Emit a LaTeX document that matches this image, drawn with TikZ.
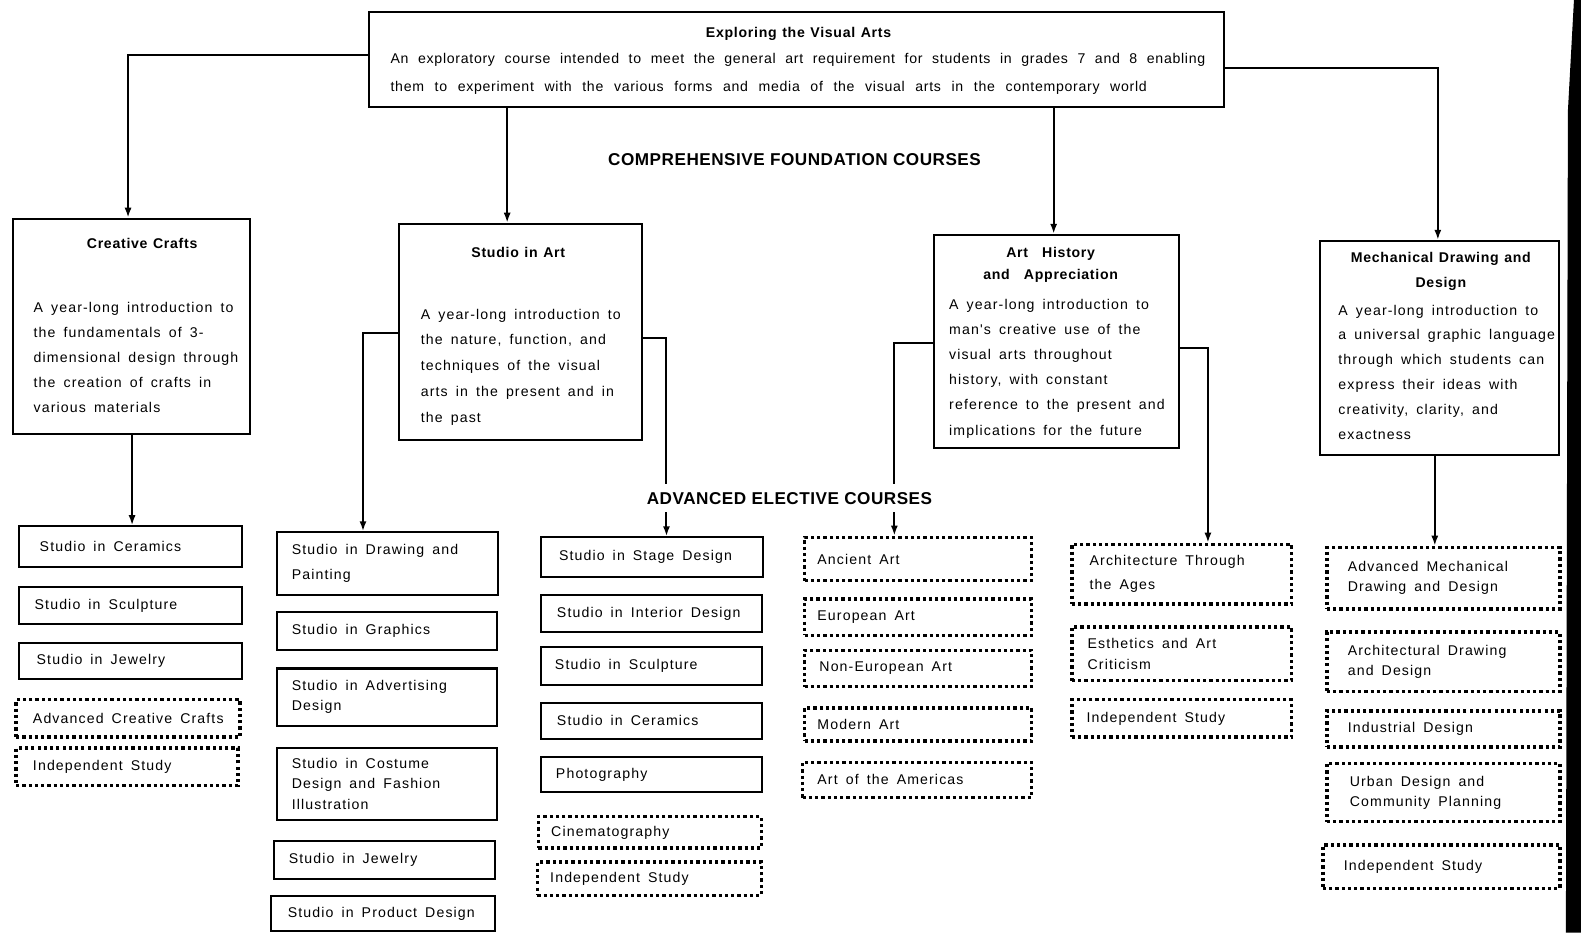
\documentclass[tikz,border=0pt]{standalone}
\usepackage{fontspec}
\setmainfont{Liberation Sans}
\newfontfamily\bodyf{Liberation Sans}[LetterSpace=8,WordSpace=1.6]
\newfontfamily\titlef{Liberation Sans}[LetterSpace=5,WordSpace=1.6]
\newfontfamily\plainf{Liberation Sans}[LetterSpace=5,WordSpace=1.2]
\newfontfamily\headf{Liberation Sans}[LetterSpace=3]
\usetikzlibrary{arrows.meta,calc}

\tikzset{
  solidbox/.style={draw, line width=1pt, inner sep=0pt},
  dotbox/.style={draw, line width=1.7pt, dash pattern=on 1.6pt off 1.5pt, inner sep=0pt},
  leaftext/.style={anchor=west, inner sep=0pt, align=left, font=\bodyf\fontsize{7}{10}\selectfont},
  bodytext/.style={anchor=north west, inner sep=0pt, align=left, font=\bodyf\fontsize{7}{12.5}\selectfont},
  titletext/.style={inner sep=0pt, align=center, font=\titlef\bfseries\fontsize{7}{11}\selectfont},
  headtext/.style={inner sep=2pt, font=\headf\bfseries\fontsize{8.5}{10}\selectfont},
  conn/.style={line width=1pt, -{Latex[length=5pt,width=3.5pt]}}
}

\newcommand{\cbox}[8]{%
  \pgfmathsetmacro\bw{(#5-#3)*0.5}%
  \pgfmathsetmacro\bh{(#6-#4)*0.5}%
  \node[#1, minimum width=\bw pt, minimum height=\bh pt] (#2) at ({(#3+#5)/2},{(#4+#6)/2}) {};%
  \node[leaftext] (#2-t) at ([xshift=#7*0.5pt]#2.west) {#8};%
}
\newcommand{\bigbox}[6]{%
  \pgfmathsetmacro\bw{(#5-#3)*0.5}%
  \pgfmathsetmacro\bh{(#6-#4)*0.5}%
  \node[#1, minimum width=\bw pt, minimum height=\bh pt] (#2) at ({(#3+#5)/2},{(#4+#6)/2}) {};%
}

\begin{document}
\begin{tikzpicture}[x=0.5pt,y=-0.5pt]
\useasboundingbox (0,0) rectangle (1568,925);

% scan edge
\fill[black] (1561,0) -- (1568,0) -- (1568,925) -- (1553,925) -- (1555,110) -- cycle;

% top box
\bigbox{solidbox, line width=1.2pt}{top}{366}{12}{1214}{106}
\node[titletext] (top-title) at (792,34) {Exploring the Visual Arts};
\node[anchor=north west, inner sep=0pt, align=left, font=\plainf\fontsize{7}{14}\selectfont] (top-body) at (387,52)
 {\makebox[404pt][s]{An exploratory course intended to meet the general art requirement for students in grades 7 and 8 enabling}\\
  \makebox[375pt][s]{them to experiment with the various forms and media of the visual arts in the contemporary world}};

\node[headtext] (h1) at (788,158) {COMPREHENSIVE FOUNDATION COURSES};

% foundation boxes
\bigbox{solidbox}{cc}{13}{217}{248}{430}
\node[titletext] (cc-title) at (141,241) {Creative Crafts};
\node[bodytext] (cc-body) at (33,299) {A year-long introduction to\\the fundamentals of 3-\\dimensional design through\\the creation of crafts in\\various materials};

\bigbox{solidbox}{sa}{396}{222}{637}{436}
\node[titletext] (sa-title) at (514,250) {Studio in Art};
\node[bodytext, font=\bodyf\fontsize{7}{12.8}\selectfont] (sa-body) at (417,306) {A year-long introduction to\\the nature, function, and\\techniques of the visual\\arts in the present and in\\the past};

\bigbox{solidbox}{ah}{926}{233}{1169}{444}
\node[titletext] (ah-title) at (1042,263) {Art\quad History\\and\quad Appreciation};
\node[bodytext] (ah-body) at (941,296) {A year-long introduction to\\man's creative use of the\\visual arts throughout\\history, with constant\\reference to the present and\\implications for the future};

\bigbox{solidbox}{md}{1309}{239}{1546}{451}
\node[titletext, font=\titlef\bfseries\fontsize{7}{12.5}\selectfont] (md-title) at (1429,269.5) {Mechanical Drawing and\\Design};
\node[bodytext, font=\bodyf\fontsize{7}{12.3}\selectfont] (md-body) at (1327,302) {A year-long introduction to\\a universal graphic language\\through which students can\\express their ideas with\\creativity, clarity, and\\exactness};

% column 1
\cbox{solidbox}{cer1}{19}{522}{240}{562}{21}{Studio in Ceramics}
\cbox{solidbox}{scu1}{19}{582}{240}{619}{16}{Studio in Sculpture}
\cbox{solidbox}{jew1}{19}{638}{240}{673}{18}{Studio in Jewelry}
\cbox{dotbox}{acc}{16}{694}{238}{731}{18}{Advanced Creative Crafts}
\cbox{dotbox}{ind1}{16}{742}{236}{779}{18}{Independent Study}

% column 2
\cbox{solidbox}{dp}{275}{528}{494}{590}{15}{Studio in Drawing and\\[2.5pt]Painting}
\cbox{solidbox}{gr}{275}{607}{493}{645}{15}{Studio in Graphics}
\cbox{solidbox}{adv}{275}{663}{493}{720}{15}{Studio in Advertising\\Design}
\cbox{solidbox}{cos}{275}{742}{493}{813}{15}{Studio in Costume\\Design and Fashion\\Illustration}
\cbox{solidbox}{jew2}{272}{834}{491}{872}{15}{Studio in Jewelry}
\cbox{solidbox}{prod}{269}{889}{491}{923}{17}{Studio in Product Design}

% column 3
\cbox{solidbox}{stage}{537}{533}{757}{572}{18}{Studio in Stage Design}
\cbox{solidbox}{int}{537}{590}{756}{627}{16}{Studio in Interior Design}
\cbox{solidbox}{scu3}{537}{642}{756}{679}{14}{Studio in Sculpture}
\cbox{solidbox}{cer3}{537}{697}{756}{733}{16}{Studio in Ceramics}
\cbox{solidbox}{photo}{537}{751}{756}{785}{15}{Photography}
\cbox{dotbox}{cine}{534}{810}{755}{841}{14}{Cinematography}
\cbox{dotbox}{ind3}{533}{855}{755}{888}{14}{Independent Study}

% column 4
\cbox{dotbox}{anc}{798}{533}{1023}{576}{14}{Ancient Art}
\cbox{dotbox}{eur}{798}{594}{1023}{630}{14}{European Art}
\cbox{dotbox}{noneu}{798}{645}{1023}{681}{16}{Non-European Art}
\cbox{dotbox}{mod}{798}{702}{1023}{735}{14}{Modern Art}
\cbox{dotbox}{amer}{796}{756}{1023}{791}{16}{Art of the Americas}

% column 5
\cbox{dotbox}{arch}{1063}{540}{1281}{599}{19}{Architecture Through\\[2pt]the Ages}
\cbox{dotbox}{esth}{1063}{622}{1281}{675}{17}{Esthetics and Art\\Criticism}
\cbox{dotbox}{ind5}{1063}{694}{1281}{731}{16}{Independent Study}

% column 6
\cbox{dotbox}{amd}{1316}{543}{1547}{604}{22}{Advanced Mechanical\\Drawing and Design}
\cbox{dotbox}{ard}{1316}{627}{1547}{686}{22}{Architectural Drawing\\and Design}
\cbox{dotbox}{indd}{1316}{705}{1547}{741}{22}{Industrial Design}
\cbox{dotbox}{urban}{1316}{757}{1547}{815}{24}{Urban Design and\\Community Planning}
\cbox{dotbox}{ind6}{1312}{838}{1547}{881}{22}{Independent Study}

% connectors
\draw[conn] (top.west |- 0,55) -| (cc.north -| 127,0);
\draw[conn] (top.south -| 503,0) -- (sa.north -| 503,0);
\draw[conn] (top.south -| 1045,0) -- (ah.north -| 1045,0);
\draw[conn] (top.east |- 0,67) -| (md.north -| 1426,0);
\draw[conn] (cc.south -| 131,0) -- (cer1.north -| 131,0);
\draw[conn] (sa.west |- 0,330) -| (dp.north -| 360,0);
\draw[conn] (sa.east |- 0,335) -| (stage.north -| 661,0);
\draw[conn] (ah.west |- 0,340) -| (anc.north -| 887,0);
\draw[conn] (ah.east |- 0,345) -| (arch.north -| 1198,0);
\draw[conn] (md.south -| 1423,0) -- (amd.north -| 1423,0);

\node[headtext, fill=white, inner ysep=4pt] (h2) at (783,494) {ADVANCED ELECTIVE COURSES};
\end{tikzpicture}
\end{document}
